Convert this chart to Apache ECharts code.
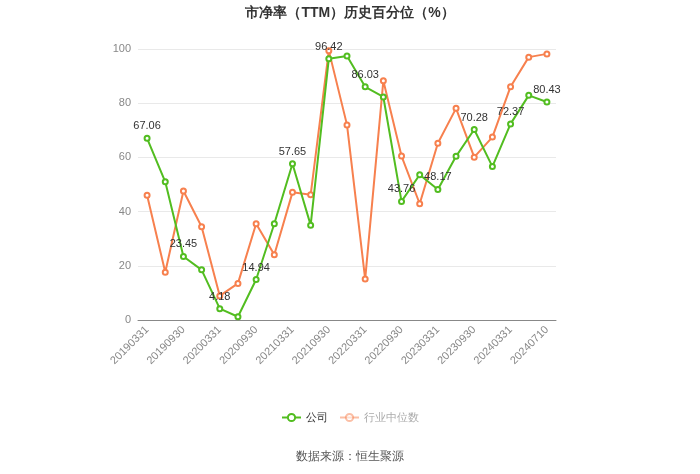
<!DOCTYPE html>
<html><head><meta charset="utf-8">
<script src="https://cdn.jsdelivr.net/npm/echarts@6/dist/echarts.min.js"></script>
<style>html,body{margin:0;padding:0;background:#fff}#c{width:700px;height:474px}</style>
</head><body><div id="c"></div>
<script>
const categories = ['20190331','20190630','20190930','20191231','20200331','20200630','20200930','20201231','20210331','20210630','20210930','20211231','20220331','20220630','20220930','20221231','20230331','20230630','20230930','20231231','20240331','20240630','20240710'];
const companyValues = [67.06,51,23.45,18.5,4.18,1.2,14.94,35.5,57.65,35,96.42,97.4,86.03,82.3,43.76,53.6,48.17,60.4,70.28,56.6,72.37,82.9,80.43];
const industryValues = [46,17.6,47.6,34.4,8.9,13.5,35.5,24.1,47.1,46.2,99.4,72,15.1,88.3,60.5,42.9,65.2,78.1,60.1,67.5,86.1,97,98.2];
const yTicks = {min:0, max:100, interval:20};
const labelEvery = 2;

const chart = echarts.init(document.getElementById('c'));
const green = '#52bd20', orange = '#f7804e';
chart.setOption({
  animation:false,
  title:{text:'市净率（TTM）历史百分位（%）',left:'center',top:1,textStyle:{fontSize:14,fontWeight:'bold',color:'#333'}},
  legend:{top:407,left:'center',itemWidth:19,itemHeight:9,itemGap:11,textStyle:{fontSize:11,color:'#333'},
    data:[{name:'公司'},{name:'行业中位数',textStyle:{color:'#aaa'},itemStyle:{opacity:0.5},lineStyle:{opacity:0.5}}]},
  graphic:[{type:'text',left:'center',top:451,style:{text:'数据来源：恒生聚源',fill:'#555',fontSize:12}}],
  grid:{left:138,right:144,top:49,bottom:154},
  xAxis:{type:'category',data:categories,boundaryGap:true,
    axisLine:{lineStyle:{color:'#888'}},axisTick:{alignWithLabel:true,interval:labelEvery-1,lineStyle:{color:'#888'}},
    axisLabel:{interval:labelEvery-1,rotate:45,color:'#888',fontSize:11,margin:8}},
  yAxis:{type:'value',min:yTicks.min,max:yTicks.max,interval:yTicks.interval,
    axisLine:{show:false},axisTick:{show:false},axisLabel:{color:'#888',fontSize:11,margin:7},
    splitLine:{lineStyle:{color:'#e9e9e9'}}},
  series:[
    {name:'公司',type:'line',data:companyValues,symbol:'emptyCircle',symbolSize:5,z:3,
      lineStyle:{color:green,width:2},itemStyle:{color:green},
      label:{show:true,position:'top',color:'#333',fontSize:11,distance:3,
        formatter:p=>p.dataIndex%labelEvery===0?p.value.toFixed(2):''}},
    {name:'行业中位数',type:'line',data:industryValues,symbol:'emptyCircle',symbolSize:5,z:2,
      lineStyle:{color:orange,width:2},itemStyle:{color:orange}}
  ]
});
</script></body></html>
